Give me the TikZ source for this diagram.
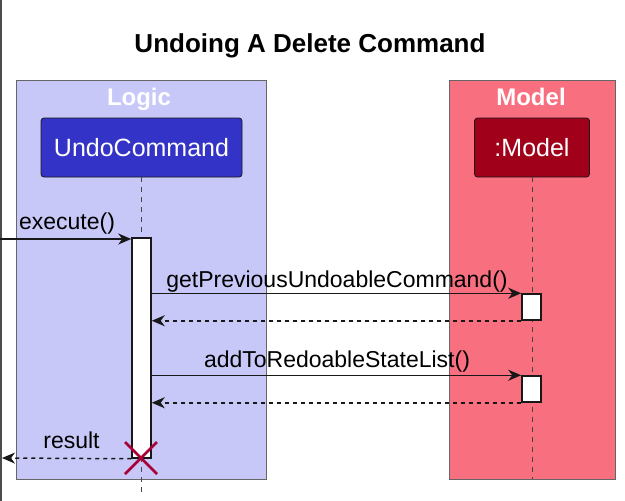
\documentclass[tikz,border=0pt]{standalone}
\usepackage{fontspec}
\setmainfont{Liberation Sans}
\usetikzlibrary{arrows.meta}
\definecolor{lineclr}{HTML}{181818}
\definecolor{logicbg}{HTML}{C8C8F8}
\definecolor{modelbg}{HTML}{F87080}
\definecolor{undofill}{HTML}{3333C8}
\definecolor{modelfill}{HTML}{A0001A}
\definecolor{killclr}{HTML}{A80036}
\tikzset{
  grp/.style={draw=black!60, line width=0.8pt},
  part/.style={draw=lineclr, line width=0.8pt, rounded corners=3pt, text=white, inner sep=0pt, font=\fontsize{25}{29}\selectfont},
  grplabel/.style={text=white, font=\bfseries\fontsize{24}{28}\selectfont, anchor=base, inner sep=0pt},
  lifeline/.style={draw=lineclr!80, line width=0.8pt, dash pattern=on 5pt off 5pt},
  actbar/.style={draw=lineclr, fill=white, line width=1.5pt, minimum width=19pt, inner sep=0pt},
  msg/.style={draw=lineclr, line width=1.5pt, -{Stealth[length=13pt, width=11pt, inset=4pt]}},
  ret/.style={msg, dash pattern=on 4pt off 4pt},
  lbl/.style={font=\fontsize{23}{27}\selectfont, anchor=base, inner sep=0pt, text=black},
}
\begin{document}
\begin{tikzpicture}[x=1pt,y=-1pt]
\useasboundingbox (0,0) rectangle (625,501);
\fill[white] (0,0) rectangle (625,501);
% left frame edge
\draw[black!70, line width=1.2pt] (1,0) -- (1,501);
% title
\node[font=\bfseries\fontsize{26}{30}\selectfont, anchor=base, inner sep=0pt] (title) at (310,52) {Undoing A Delete Command};
% groups
\draw[grp, fill=logicbg] (16,80) rectangle (266,479);
\draw[grp, fill=modelbg] (449,80) rectangle (615,479);
\node[grplabel] (logiclbl) at (139,105) {Logic};
\node[grplabel] (modellbl) at (531,105) {Model};
% participants
\node[part, fill=undofill, minimum width=201pt, minimum height=59pt] (undo) at (141.5,147.5) {UndoCommand};
\node[part, fill=modelfill, minimum width=115pt, minimum height=59pt] (model) at (532,147.5) {:Model};
% lifelines
\coordinate (uend) at (141,492);
\coordinate (mend) at (532,479);
\draw[lifeline] (undo.south -| uend) -- (uend);
\draw[lifeline] (model.south -| mend) -- (mend);
% activation bars
\node[actbar, minimum height=220pt] (act1) at (141.5,348) {};
\node[actbar, minimum height=26pt] (act2) at (531.5,307) {};
\node[actbar, minimum height=26pt] (act3) at (531.5,389) {};
% execute
\coordinate (ein) at (0,239);
\draw[msg] (ein) -- (ein -| act1.west);
\node[lbl] (lexec) at (67,229) {execute()};
% getPreviousUndoableCommand
\draw[msg] (act1.east |- act2.north) -- (act2.north west);
\node[lbl] (lgp) at (337,287) {getPreviousUndoableCommand()};
\draw[ret] (act2.south west) -- (act1.east |- act2.south);
% addToRedoableStateList
\draw[msg] (act1.east |- act3.north) -- (act3.north west);
\node[lbl] (lad) at (337,367) {addToRedoableStateList()};
\draw[ret] (act3.south west) -- (act1.east |- act3.south);
% result
\coordinate (rout) at (2,458);
\draw[ret] (act1.south west) -- (rout);
\node[lbl] (lres) at (71.5,448) {result};
% destroy mark
\coordinate (kill) at (141,458);
\draw[killclr, line width=2.5pt] ([shift={(-16,-16)}]kill) -- ([shift={(16,16)}]kill)
  ([shift={(-16,16)}]kill) -- ([shift={(16,-16)}]kill);
\end{tikzpicture}
\end{document}
